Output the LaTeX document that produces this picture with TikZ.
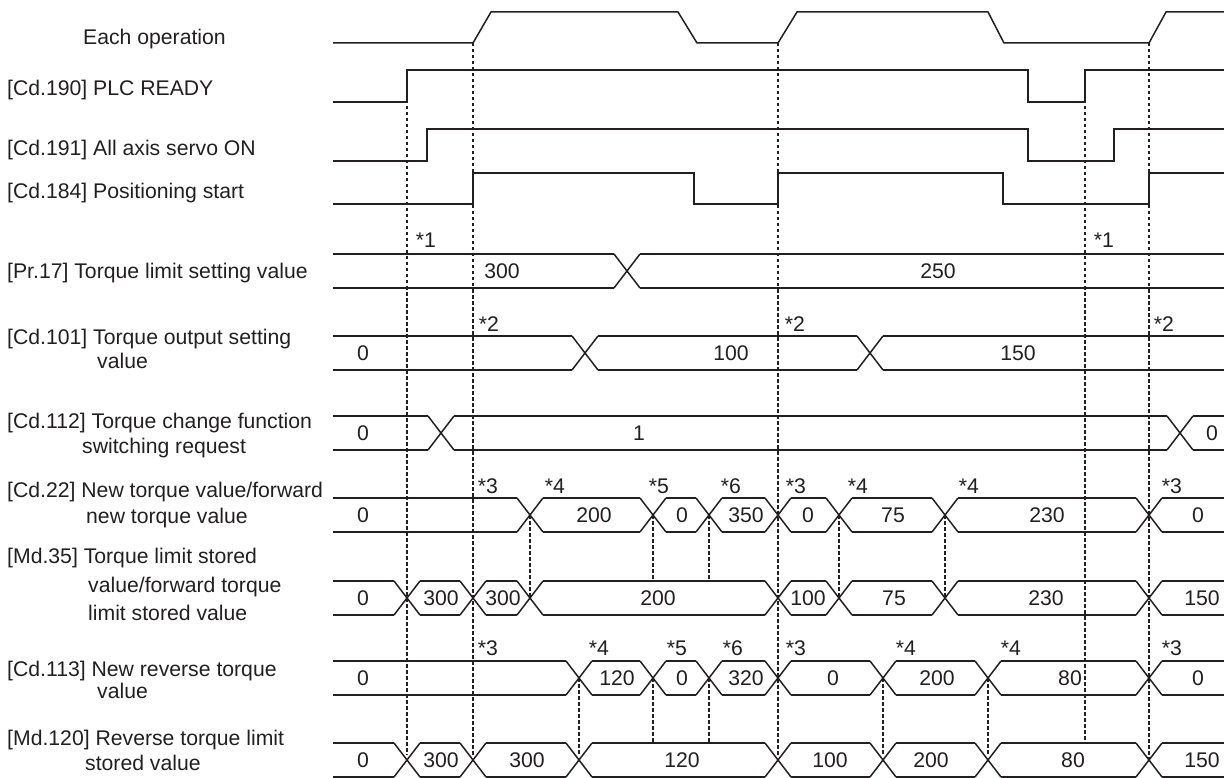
\documentclass[tikz,border=0pt]{standalone}
\usepackage{fontspec}
\setmainfont{Liberation Sans}
\definecolor{ink}{HTML}{231F20}
\newcommand{\xh}{13}
\newcommand{\bh}{17}
\newcommand{\bus}[2]{%
  \foreach \c [remember=\c as \p (initially 320)] in {#2,1237}
    \draw[sig] ({\p+\xh},{#1-\bh}) -- ({\c-\xh},{#1-\bh}) ({\p+\xh},{#1+\bh}) -- ({\c-\xh},{#1+\bh});
  \foreach \c in {#2}
    \draw[sig] ({\c-\xh},{#1-\bh}) -- ({\c+\xh},{#1+\bh}) ({\c-\xh},{#1+\bh}) -- ({\c+\xh},{#1-\bh});}
\newcommand{\vals}[3]{%
  \foreach \x/\v in {#3} \node[val] (#1-\x) at (\x,#2) {\v};}
\newcommand{\stars}[3]{%
  \foreach \x/\v in {#3} \node[val] (#1-\x) at (\x,#2) {*\v};}
\newcommand{\dropline}[3]{\draw[guide] (#1,#2) -- (#1,#3);}

\begin{document}
\begin{tikzpicture}[x=1pt,y=-1pt,
  sig/.style={ink, line width=1.5pt},
  guide/.style={ink, line width=1.8pt, dash pattern=on 3.5pt off 2.5pt},
  val/.style={font=\fontsize{21.2}{25}\selectfont, text=ink, inner sep=0pt},
  lbl/.style={anchor=base west, font=\fontsize{21.2}{25}\selectfont, text=ink, inner sep=0pt}]

\useasboundingbox (0,0) rectangle (1224,778);

% signal names
\node[lbl] (each) at (83,45) {Each operation};
\node[lbl] (cd190) at (7,95.7) {[Cd.190] PLC READY};
\node[lbl] (cd191) at (7,155.7) {[Cd.191] All axis servo ON};
\node[lbl] (cd184) at (7,199) {[Cd.184] Positioning start};
\node[lbl] (pr17) at (7,279) {[Pr.17] Torque limit setting value};
\node[lbl] (cd101) at (7,344) {[Cd.101] Torque output setting};
\node[lbl] (cd101b) at (97,368) {value};
\node[lbl] (cd112) at (7,428) {[Cd.112] Torque change function};
\node[lbl] (cd112b) at (82,453) {switching request};
\node[lbl] (cd22) at (7,497) {[Cd.22] New torque value/forward};
\node[lbl] (cd22b) at (86,523) {new torque value};
\node[lbl] (md35) at (7,563) {[Md.35] Torque limit stored};
\node[lbl] (md35b) at (88,592) {value/forward torque};
\node[lbl] (md35c) at (88,620) {limit stored value};
\node[lbl] (cd113) at (7,676) {[Cd.113] New reverse torque};
\node[lbl] (cd113b) at (97,698) {value};
\node[lbl] (md120) at (7,745) {[Md.120] Reverse torque limit};
\node[lbl] (md120b) at (85,770) {stored value};

% bit signals
\draw[sig] (333,43) -- (473,43) -- (491,12) -- (678,12) -- (697,43) -- (778,43) -- (797,12)
  -- (988,12) -- (1004,43) -- (1149,43) -- (1166,12) -- (1224,12);
\draw[sig] (333,102) -- (407,102) -- (407,70) -- (1028,70) -- (1028,102) -- (1085,102)
  -- (1085,70) -- (1224,70);
\draw[sig] (333,161) -- (427,161) -- (427,129) -- (1028,129) -- (1028,161) -- (1114,161)
  -- (1114,129) -- (1224,129);
\draw[sig] (333,204) -- (473,204) -- (473,173) -- (694,173) -- (694,204) -- (778,204)
  -- (778,173) -- (1003,173) -- (1003,204) -- (1149,204) -- (1149,173) -- (1224,173);

% data buses
\bus{271}{627}
\bus{353}{585,870}
\bus{433}{441,1180}
\bus{515}{530,653,709,778,839,945,1149}
\bus{598}{407,473,530,778,839,945,1149}
\bus{678}{579,653,709,778,883,988,1149}
\bus{760}{407,473,579,778,883,988,1149}

% timing guides
\dropline{407}{70}{755}
\dropline{473}{43}{755}
\dropline{778}{43}{755}
\dropline{1085}{100}{743}
\dropline{1149}{43}{760}
\foreach \x in {530,839,945} {\dropline{\x}{515}{598}}
\foreach \x in {653,709} {\dropline{\x}{515}{581}}
\foreach \x in {579,883,988} {\dropline{\x}{678}{755}}
\foreach \x in {653,709} {\dropline{\x}{678}{743}}

% values
\vals{vpr17}{271}{502/300, 938/250}
\vals{vcd101}{353}{363/0, 731/100, 1018/150}
\vals{vcd112}{433}{363/0, 639/1, 1212/0}
\vals{vcd22}{515}{363/0, 594/200, 682/0, 746/350, 808/0, 893/75, 1047/230, 1198/0}
\vals{vmd35}{598}{363/0, 441/300, 503/300, 658/200, 808/100, 894/75, 1046/230, 1202/150}
\vals{vcd113}{678}{363/0, 617/120, 682/0, 746/320, 833/0, 937/200, 1070/80, 1198/0}
\vals{vmd120}{760}{363/0, 441/300, 527/300, 682/120, 830/100, 931/200, 1073/80, 1202/150}

% notes
\stars{npr17}{240}{426/1, 1104/1}
\stars{ncd101}{324}{489/2, 795/2, 1164/2}
\stars{ncd22}{486}{488/3, 555/4, 659/5, 731/6, 796/3, 858/4, 969/4, 1172/3}
\stars{ncd113}{648}{488/3, 599/4, 677/5, 733/6, 796/3, 906/4, 1011/4, 1172/3}

\end{tikzpicture}
\end{document}
